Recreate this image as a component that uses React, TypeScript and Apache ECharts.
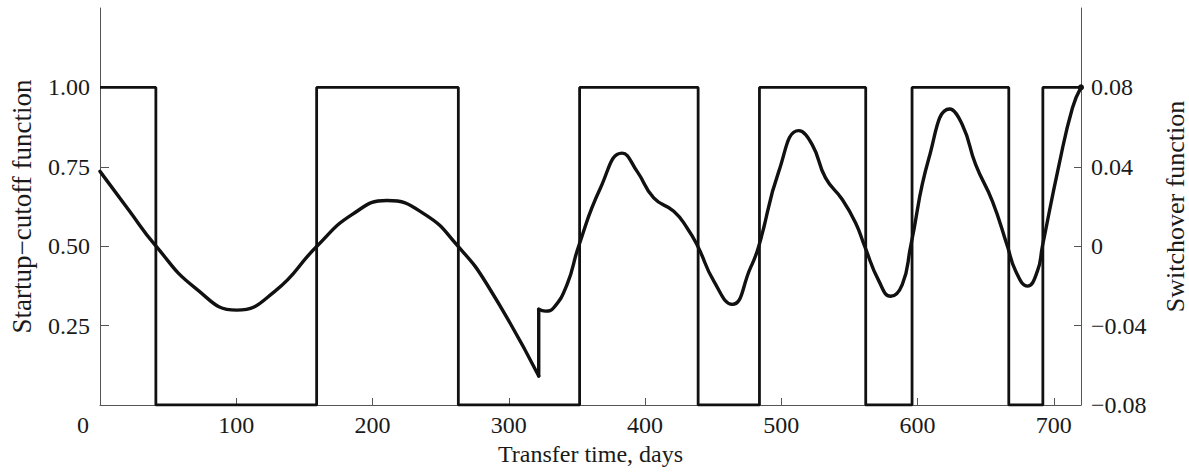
import React, { useEffect, useRef } from "react";
import * as echarts from "echarts";

// Transfer time axis (days)
const xMin = 0;
const xMax = 720;
const xTickValues = [100, 200, 300, 400, 500, 600, 700];

// Startup–cutoff function: switching instants (days), starts "on" (1)
const startLevel = 1;
const switchTimes = [41, 159, 263, 352, 439, 484, 562, 596, 667, 692];

// Switchover function samples (jump at day 322)
const jumpIndex = 12;
const curveDays = [
  0, 20.8, 41.1, 69.8, 100.4, 128.5, 159.2, 184.9, 210.6, 238.7, 262.7, 284.1,
  322, 322, 326.9, 333, 342.8, 351.3, 367.3, 383.2, 394.2, 406.4, 421.1, 430.9,
  438.7, 450.5, 464, 477.4, 483.5, 498.2, 512.9, 522.7, 532.5, 544.8, 554.6,
  561.2, 571.7, 580.3, 588.8, 595, 608.4, 623.6, 632.9, 642.7, 655, 666, 672.1,
  680.7, 688, 691.7, 703.9, 713.7, 720,
];
const curveValues = [
  0.0377, 0.0185, 0, -0.021, -0.0322, -0.0226, 0, 0.0159, 0.023, 0.0159, 0,
  -0.0193, -0.0654, -0.0318, -0.0327, -0.031, -0.0193, 0, 0.0293, 0.0469,
  0.0377, 0.0243, 0.0176, 0.0092, 0, -0.0176, -0.0293, -0.0109, 0, 0.0377,
  0.0582, 0.0512, 0.0344, 0.0235, 0.0117, 0, -0.0176, -0.0252, -0.0193, 0,
  0.0444, 0.0691, 0.0612, 0.0411, 0.0226, 0, -0.0126, -0.0201, -0.0126, 0,
  0.0411, 0.0696, 0.08,
];

const leftTicks = [0.25, 0.5, 0.75, 1.0];
const rightTicks = [-0.08, -0.04, 0, 0.04, 0.08];

const FONT = '"Liberation Serif", "Times New Roman", serif';
const TEXT = "#1a1a1a";
const AXIS = "#555555";
const INK = "#111111";

export default function App() {
  const ref = useRef<HTMLDivElement>(null);

  useEffect(() => {
    if (!ref.current) return;
    const chart = echarts.init(ref.current, undefined, { renderer: "svg" });

    const square: number[][] = [[xMin, startLevel]];
    let level = startLevel;
    for (const t of switchTimes) {
      square.push([t, level]);
      level = 1 - level;
      square.push([t, level]);
    }
    square.push([xMax, level]);

    const curve: any[] = curveDays.map((d, i) => [d, curveValues[i]]);
    const before = curve.slice(0, jumpIndex + 1);
    const jump = curve.slice(jumpIndex, jumpIndex + 2);
    const after: any[] = curve.slice(jumpIndex + 1);
    const last = after.length - 1;
    after[last] = { value: after[last], symbol: "circle", symbolSize: 6 };

    const fmtRight = (v: number) => {
      if (Math.abs(v) < 1e-9) return "0";
      return (v < 0 ? "\u2212" : "") + Math.abs(v).toFixed(2);
    };

    const curveSeries = (name: string, data: any[], smooth: number | boolean) => ({
      name,
      type: "line",
      yAxisIndex: 1,
      data,
      smooth,
      symbol: "none",
      itemStyle: { color: INK },
      lineStyle: { color: INK, width: 3.4, cap: "round", join: "round" },
      z: 4,
    });

    chart.setOption({
      animation: false,
      backgroundColor: "#ffffff",
      textStyle: { fontFamily: FONT },
      grid: {
        left: 100,
        right: 108,
        top: 8,
        bottom: 67,
        containLabel: false,
        outerBoundsMode: "none",
      },
      xAxis: {
        type: "value",
        min: xMin,
        max: xMax,
        name: "Transfer time, days",
        nameLocation: "middle",
        nameGap: 37,
        nameTextStyle: { fontFamily: FONT, fontSize: 24, color: TEXT },
        axisLine: { show: true, lineStyle: { color: AXIS, width: 1 } },
        axisTick: {
          show: true,
          inside: true,
          length: 7,
          customValues: xTickValues,
          lineStyle: { color: AXIS, width: 1 },
        },
        axisLabel: {
          customValues: xTickValues,
          fontFamily: FONT,
          fontSize: 24,
          color: TEXT,
          margin: 8,
        },
        splitLine: { show: false },
      },
      yAxis: [
        {
          type: "value",
          position: "left",
          min: 0,
          max: 1.25,
          name: "Startup\u2212cutoff function",
          nameLocation: "middle",
          nameGap: 65,
          nameTextStyle: { fontFamily: FONT, fontSize: 27, color: TEXT },
          axisLine: { show: true, lineStyle: { color: AXIS, width: 1 } },
          axisTick: {
            show: true,
            inside: true,
            length: 9,
            customValues: leftTicks,
            lineStyle: { color: AXIS, width: 1 },
          },
          axisLabel: {
            customValues: leftTicks,
            formatter: (v: number) => v.toFixed(2),
            fontFamily: FONT,
            fontSize: 24,
            color: TEXT,
            margin: 10,
          },
          splitLine: { show: false },
        },
        {
          type: "value",
          position: "right",
          min: -0.08,
          max: 0.12,
          name: "Switchover function",
          nameLocation: "middle",
          nameGap: 81,
          nameTextStyle: { fontFamily: FONT, fontSize: 26, color: TEXT },
          axisLine: { show: true, lineStyle: { color: AXIS, width: 1 } },
          axisTick: {
            show: true,
            inside: true,
            length: 7,
            customValues: rightTicks,
            lineStyle: { color: AXIS, width: 1 },
          },
          axisLabel: {
            customValues: rightTicks,
            formatter: fmtRight,
            fontFamily: FONT,
            fontSize: 24,
            color: TEXT,
            margin: 10,
          },
          splitLine: { show: false },
        },
      ],
      graphic: [
        {
          type: "text",
          left: 77,
          top: 413,
          style: { text: "0", font: `24px ${FONT}`, fill: TEXT },
        },
      ],
      series: [
        {
          name: "Startup-cutoff function",
          type: "line",
          yAxisIndex: 0,
          data: square,
          showSymbol: false,
          symbol: "none",
          lineStyle: { color: INK, width: 2.8 },
          z: 3,
        },
        curveSeries("Switchover function", before, 0.5),
        curveSeries("Switchover jump", jump, false),
        curveSeries("Switchover function (cont.)", after, 0.5),
      ],
    });

    return () => chart.dispose();
  }, []);

  return (
    <div
      ref={ref}
      style={{ position: "fixed", left: 0, top: 0, width: 1189, height: 472, background: "#fff" }}
    />
  );
}
